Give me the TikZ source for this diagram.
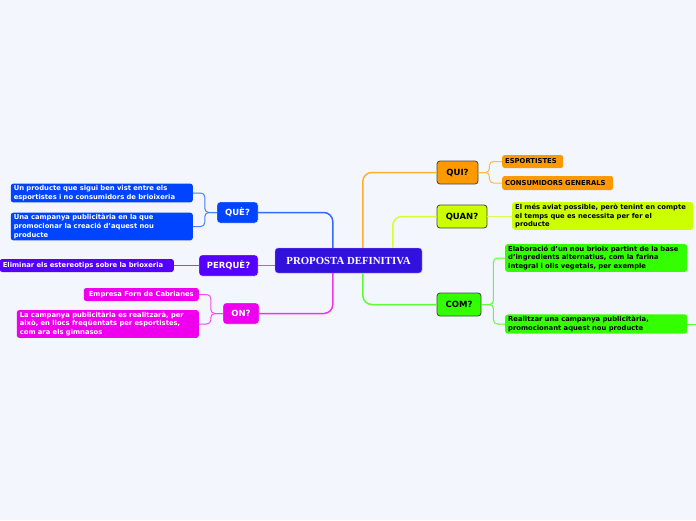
\documentclass[tikz,border=0pt]{standalone}
\usepackage{fontspec}
\setmainfont{DejaVu Sans}
\newfontfamily\rootfont{Liberation Serif}
\usetikzlibrary{calc}

\definecolor{bgc}{HTML}{F3F6FD}
\definecolor{rootc}{HTML}{3311DD}
\definecolor{quic}{HTML}{FF9900}
\definecolor{quanc}{HTML}{CCFF00}
\definecolor{comc}{HTML}{33FF00}
\definecolor{quec}{HTML}{0044FF}
\definecolor{perquec}{HTML}{5500FF}
\definecolor{onc}{HTML}{EE00EE}
\definecolor{edgec}{HTML}{444444}

\begin{document}
\begin{tikzpicture}[
  x=1pt, y=-1pt,
  root/.style={fill=rootc, draw=white!60!rootc, rounded corners=3pt, text=white,
    font=\rootfont\bfseries\fontsize{10.8}{12}\selectfont, minimum width=147pt, minimum height=25pt},
  topic/.style={rounded corners=3pt, font=\bfseries\fontsize{8.5}{10}\selectfont,
    minimum height=21pt, inner xsep=2pt},
  darktopic/.style={topic, draw=edgec, line width=0.8pt, minimum height=23pt},
  lighttopic/.style={topic, draw=white!50, text=white},
  leaf/.style={rounded corners=2.5pt, font=\bfseries\fontsize{6.8}{8.6}\selectfont, align=left,
    inner xsep=3pt, inner ysep=1.8pt, text width=#1},
  branch/.style={draw=#1, line width=1.5pt, rounded corners=9pt},
  twig/.style={draw=#1, line width=1pt, rounded corners=4pt}
]
\fill[bgc] (0,0) rectangle (696,520);
\useasboundingbox (0,0) rectangle (696,520);

% centre
\node[root] (root) at (348.5,260.5) {PROPOSTA DEFINITIVA};

% right side
\node[darktopic, fill=quic, minimum width=41pt] (qui) at (457.5,172.5) {QUI?};
\node[darktopic, fill=quanc, minimum width=50pt] (quan) at (462,216.5) {QUAN?};
\node[darktopic, fill=comc, minimum width=44pt] (com) at (459,304.5) {COM?};

\node[leaf=55pt, fill=quic, anchor=west, minimum height=13pt] (esport) at (502,161.5) {ESPORTISTES};
\node[leaf=105pt, fill=quic, anchor=west, minimum height=14pt] (consum) at (502,183) {CONSUMIDORS GENERALS};
\node[leaf=175pt, fill=quanc, anchor=west] (aviat) at (512,216) {El més aviat possible, però tenint en compte\\el temps que es necessita per fer el\\producte};
\node[leaf=176pt, fill=comc, anchor=west] (elabor) at (505,258) {Elaboració d'un nou brioix partint de la base\\d'ingredients alternatius, com la farina\\integral i olis vegetals, per exemple};
\node[leaf=176pt, fill=comc, anchor=west] (realitz) at (505,324) {Realitzar una campanya publicitària,\\promocionant aquest nou producte};
\coordinate (offright) at (696,324);

% left side
\node[lighttopic, fill=quec, minimum width=41pt] (que) at (237.5,212.5) {QUÈ?};
\node[lighttopic, fill=perquec, minimum width=59pt] (perque) at (228.5,265.5) {PERQUÈ?};
\node[lighttopic, fill=onc, minimum width=36pt] (on) at (241,313.5) {ON?};

\node[leaf=176pt, fill=quec, text=white, anchor=east] (producte) at (193,193) {Un producte que sigui ben vist entre els\\esportistes i no consumidors de brioixeria};
\node[leaf=176pt, fill=quec, text=white, anchor=east] (campanya) at (193,226.5) {Una campanya publicitària en la que\\promocionar la creació d'aquest nou\\producte};
\node[leaf=168pt, fill=perquec, text=white, anchor=east, minimum height=13pt] (elimin) at (174,265.5) {Eliminar els estereotips sobre la brioxeria};
\node[leaf=109pt, fill=onc, text=white, anchor=east, minimum height=13pt, align=center] (empresa) at (199,294.5) {Empresa Forn de Cabrianes};
\node[leaf=176pt, fill=onc, text=white, anchor=east] (gimnas) at (199,324) {La campanya publicitària es realitzarà, per\\això, en llocs freqüentats per esportistes,\\com ara els gimnasos};

% main branches
\draw[branch=quec!80] ([xshift=58pt]root.north west) |- (que.east);
\draw[branch=quic!80] ([xshift=88pt]root.north west) |- (qui.west);
\draw[branch=quanc!80] ([xshift=118pt]root.north west) |- (quan.west);
\draw[branch=onc!80] ([xshift=58pt]root.south west) |- (on.east);
\draw[branch=comc!80] ([xshift=88pt]root.south west) |- (com.west);
\draw[branch=perquec!60] (perque.east) -- (perque.east -| root.west);

% sub branches
\draw[twig=quic!70] (qui.east) -- ++(11,0) |- (esport.west);
\draw[twig=quic!70] (qui.east) -- ++(11,0) |- (consum.west);
\draw[twig=quanc!70] (quan.east) -- (aviat.west |- quan.east);
\draw[twig=comc!80] (com.east) -- ++(12,0) |- (elabor.west);
\draw[twig=comc!80] (com.east) -- ++(12,0) |- (realitz.west);
\draw[twig=comc!80] (realitz.east) -- (offright);
\draw[twig=quec!70] (que.west) -- ++(-12,0) |- (producte.east);
\draw[twig=quec!70] (que.west) -- ++(-12,0) |- (campanya.east);
\draw[twig=perquec!70] (perque.west) -- (elimin.east);
\draw[twig=onc!70] (on.west) -- ++(-12,0) |- (empresa.east);
\draw[twig=onc!70] (on.west) -- ++(-12,0) |- (gimnas.east);
\end{tikzpicture}
\end{document}
